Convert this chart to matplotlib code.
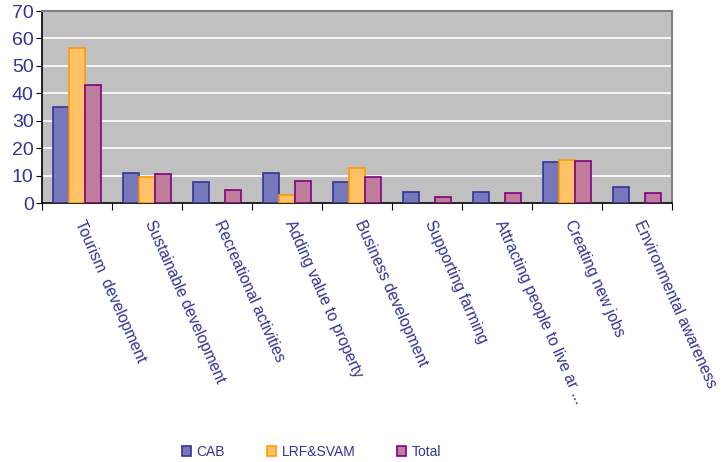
import matplotlib
matplotlib.use('Agg')
import matplotlib.pyplot as plt
import numpy as np

matplotlib.rc('font', family=['Liberation Sans', 'DejaVu Sans'], size=10)

categories = ['Tourism  development', 'Sustainable development', 'Recreational activities',
              'Adding value to property', 'Business development', 'Supporting farming',
              'Attracting people to live ar ...', 'Creating new jobs', 'Environmental awareness']
cab = [35, 11, 7.6, 11, 7.6, 4, 4, 14.9, 5.7]
lrf = [56.5, 9.5, 0, 3, 12.7, 0, 0, 15.8, 0]
total = [43, 10.7, 4.6, 8, 9.3, 2.2, 3.6, 15.3, 3.6]
series = ['CAB', 'LRF&SVAM', 'Total']

text_col = '#333399'
fig = plt.figure(figsize=(7.21, 4.62), dpi=100)
ax = fig.add_axes([0.0583, 0.5606, 0.8737, 0.4155])
ax.set_facecolor('#C0C0C0')

x = np.arange(len(categories))
w = 0.23
faces = ['#7777BB', '#FFC266', '#C07C9C']
edges = ['#333399', '#FF9900', '#800080']
for i, (vals, name) in enumerate(zip([cab, lrf, total], series)):
    # no outline on empty bars
    lw = [1.2 if v > 0 else 0 for v in vals]
    ax.bar(x + (i - 1) * w, vals, w, color=faces[i], edgecolor=edges[i],
           linewidth=lw, label=name, zorder=3)

ax.set_xlim(-0.5, len(categories) - 0.5)
ax.set_ylim(0, 70)
ax.set_yticks(np.arange(0, 71, 10))
ax.yaxis.grid(True, color='white', linewidth=1.2, zorder=0)
ax.set_axisbelow(True)

ax.set_xticks(np.arange(-0.5, len(categories), 1))
ax.set_xticklabels([])
ax.tick_params(axis='x', direction='out', length=5, color='black')
ax.tick_params(axis='y', direction='out', length=4, labelsize=14, labelcolor=text_col, pad=2)

for s in ['top', 'right']:
    ax.spines[s].set_color('#808080')
    ax.spines[s].set_linewidth(1.5)
for s in ['left', 'bottom']:
    ax.spines[s].set_color('black')
    ax.spines[s].set_linewidth(1.2)

for xi, cat in zip(x, categories):
    ax.text(xi + 0.02, -6.5, cat, rotation=-66, rotation_mode='anchor',
            ha='left', va='center', color=text_col, fontsize=11.3,
            transform=ax.transData, clip_on=False)

leg = fig.legend(loc='center', bbox_to_anchor=(0.432, 0.022), ncol=3, frameon=False,
                 handlelength=0.65, handleheight=0.65, handletextpad=0.4,
                 columnspacing=3.0, fontsize=10)
for t in leg.get_texts():
    t.set_color(text_col)

fig.savefig('out.png', dpi=100)
